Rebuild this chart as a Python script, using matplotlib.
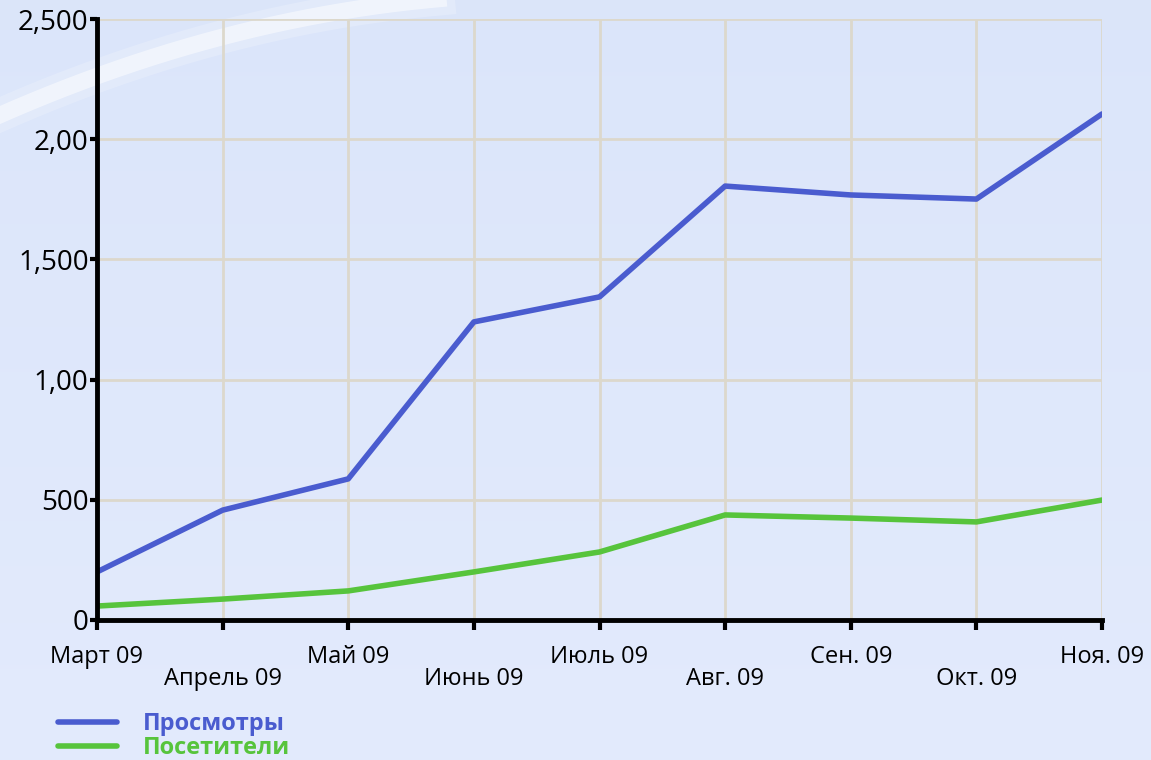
import numpy as np
import matplotlib.pyplot as plt

plt.rcParams['font.family'] = ['Open Sans', 'DejaVu Sans']

months = ["Март 09", "Апрель 09", "Май 09", "Июнь 09", "Июль 09",
          "Авг. 09", "Сен. 09", "Окт. 09", "Ноя. 09"]
views = [200, 457, 587, 1240, 1344, 1805, 1768, 1751, 2105]
visitors = [58, 87, 121, 200, 283, 437, 424, 408, 499]
y_ticks = [0, 500, 1000, 1500, 2000, 2500]
y_labels = ["0", "500", "1,00", "1,500", "2,00", "2,500"]

blue = "#4a5ccf"
green = "#57c43c"

W, H = 1151, 760
fig = plt.figure(figsize=(W / 100, H / 100), dpi=100)

# background gradient with a soft white swoosh (pixel coords)
bg = fig.add_axes([0, 0, 1, 1], zorder=-10)
gy, gx = np.mgrid[0:1:200j, 0:1:200j]
top = np.array([0.86, 0.90, 0.98])
bottom = np.array([0.89, 0.92, 0.99])
grad = top[None, None, :] * (1 - gy[..., None]) + bottom[None, None, :] * gy[..., None]
bg.imshow(grad, extent=[0, W, H, 0], aspect="auto")
sx = np.linspace(-20, 470, 200)
sy = 115 - 0.44 * sx + 0.0004 * sx ** 2
bg.plot(sx, sy, color="white", lw=24, alpha=0.2)
bg.plot(sx, sy, color="white", lw=12, alpha=0.5)
bg.set_xlim(0, W)
bg.set_ylim(H, 0)
bg.axis("off")

ax = fig.add_axes([97 / W, 140 / H, 1005 / W, 601 / H])
ax.patch.set_alpha(0)

x = np.arange(len(months))
ax.plot(x, views, color=blue, lw=4, label="Просмотры", solid_capstyle="round")
ax.plot(x, visitors, color=green, lw=4, label="Посетители", solid_capstyle="round")

ax.set_xlim(0, len(months) - 1)
ax.set_ylim(0, 2500)
ax.set_xticks(x)
ax.set_xticklabels(months, fontsize=17)
ax.set_yticks(y_ticks)
ax.set_yticklabels(y_labels, fontsize=20)
for i, t in enumerate(ax.xaxis.get_major_ticks()):
    t.set_pad(27 if i % 2 else 11)

ax.grid(True, color="#dcd8cc", lw=2)
ax.set_axisbelow(True)
for s in ["top", "right"]:
    ax.spines[s].set_visible(False)
for s in ["left", "bottom"]:
    ax.spines[s].set_linewidth(3.5)
    ax.spines[s].set_color("black")
ax.tick_params(axis="x", length=7, width=3, direction="out", colors="black")
ax.tick_params(axis="y", length=5, width=3, direction="out", pad=1, colors="black")

leg = fig.legend(loc="upper left", bbox_to_anchor=(46 / W, 1 - 700 / H),
                 frameon=False, fontsize=17, handlelength=2.5, handletextpad=1.1,
                 labelspacing=0.0, borderpad=0)
for txt, col in zip(leg.get_texts(), [blue, green]):
    txt.set_color(col)
    txt.set_fontweight("bold")

fig.savefig("out.png", dpi=100)
